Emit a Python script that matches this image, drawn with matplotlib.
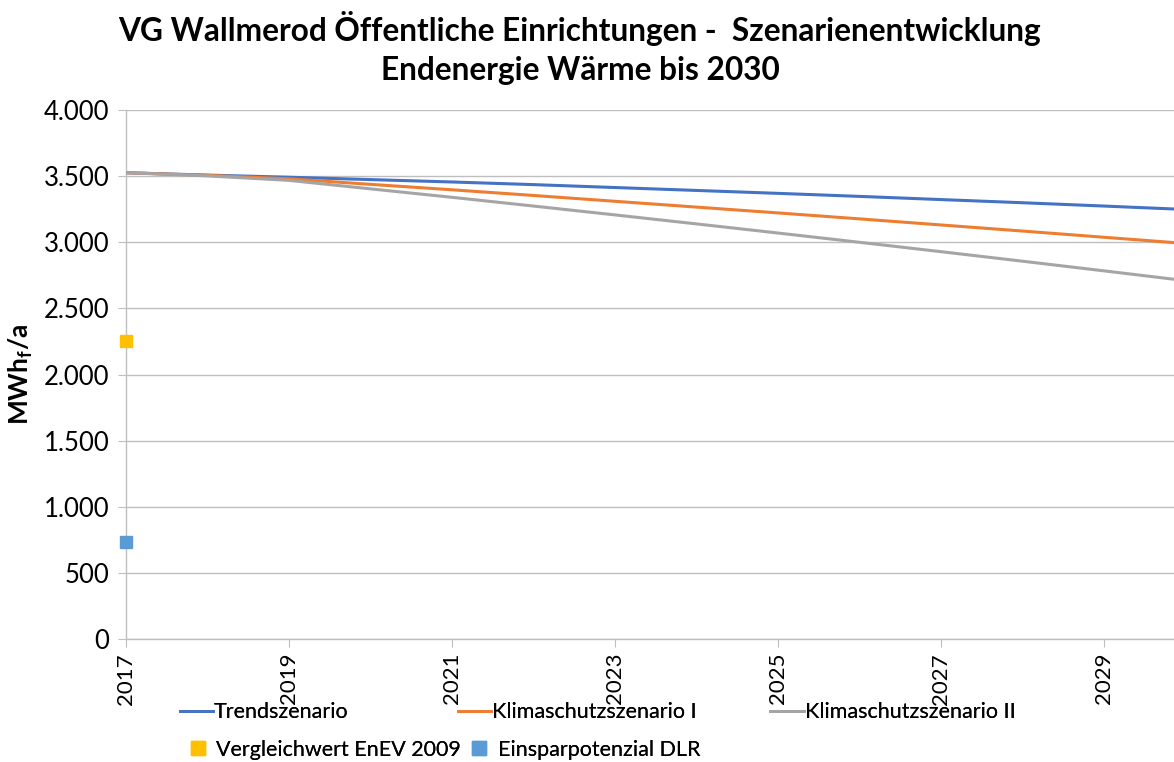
import matplotlib
matplotlib.use('Agg')
import matplotlib.pyplot as plt
from matplotlib.ticker import FuncFormatter
from matplotlib.lines import Line2D

plt.rcParams['font.family'] = ['Lato', 'DejaVu Sans']
plt.rcParams['mathtext.fontset'] = 'custom'
plt.rcParams['mathtext.rm'] = 'Lato'
plt.rcParams['mathtext.bf'] = 'Lato:bold'

# data (MWh_f/a)
years = [2017, 2018, 2019, 2020, 2021, 2022, 2023, 2024, 2025, 2026, 2027, 2028, 2029, 2030]
trend = [3526, 3508, 3492, 3474, 3456, 3436, 3414, 3392, 3370, 3347, 3323, 3299, 3274, 3248]
klima1 = [3526, 3506, 3480, 3438, 3397, 3354, 3310, 3266, 3222, 3177, 3131, 3085, 3038, 2991]
klima2 = [3526, 3502, 3468, 3404, 3340, 3274, 3207, 3139, 3070, 3000, 2929, 2857, 2784, 2710]
ref_year = 2017
enev_value = 2250
dlr_value = 730

series_labels = ['Trendszenario', 'Klimaschutzszenario I', 'Klimaschutzszenario II']
point_labels = ['Vergleichwert EnEV 2009', 'Einsparpotenzial DLR']
line_colors = ['#4472C4', '#ED7D31', '#A5A5A5']
point_colors = ['#FFC000', '#5B9BD5']

fig = plt.figure(figsize=(11.74, 7.62), dpi=100)
ax = fig.add_axes([0.1073, 0.1614, 0.8927, 0.6942])

for vals, col in zip([trend, klima1, klima2], line_colors):
    ax.plot(years, vals, color=col, lw=2.2, solid_capstyle='butt', zorder=3)

ax.plot([ref_year], [enev_value], 's', color=point_colors[0], ms=9, zorder=4, clip_on=False)
ax.plot([ref_year], [dlr_value], 's', color=point_colors[1], ms=9, zorder=4, clip_on=False)

ax.set_xlim(2017, 2029.86)
ax.set_ylim(0, 4000)
ax.set_xticks(range(2017, 2030, 2))
ax.set_yticks(range(0, 4001, 500))
ax.yaxis.set_major_formatter(FuncFormatter(lambda v, p: f'{int(v):,}'.replace(',', '.')))
ax.grid(axis='y', color='#BFBFBF', lw=1)
ax.set_axisbelow(True)

for s in ['top', 'right']:
    ax.spines[s].set_visible(False)
for s in ['left', 'bottom']:
    ax.spines[s].set_color('#BFBFBF')
    ax.spines[s].set_linewidth(1)

ax.tick_params(axis='x', direction='out', length=6, color='#BFBFBF', labelsize=16,
               labelrotation=90, pad=4)
ax.tick_params(axis='y', direction='out', length=6, color='#BFBFBF', labelsize=18.5, pad=6)

ax.set_ylabel(r'MWh$_{\mathbf{f}}$/a', fontsize=19, fontweight='bold', labelpad=6)

fig.suptitle('VG Wallmerod Öffentliche Einrichtungen -  Szenarienentwicklung\n'
             'Endenergie Wärme bis 2030', fontsize=22.8, fontweight='bold',
             y=0.985, x=0.494, linespacing=1.38)

# legend, Excel-style: fixed positions for each entry
line_pos = [(0.153, 0.0655), (0.390, 0.0655), (0.656, 0.0655)]
for lab, col, pos in zip(series_labels, line_colors, line_pos):
    h = Line2D([], [], color=col, lw=2)
    lg = fig.legend([h], [lab], loc='center left', bbox_to_anchor=pos, frameon=False,
                    fontsize=15.5, handlelength=1.55, handletextpad=0.05,
                    borderpad=0, borderaxespad=0)
    fig.add_artist(lg)

pt_pos = [(0.160, 0.016), (0.400, 0.016)]
for lab, col, pos in zip(point_labels, point_colors, pt_pos):
    h = Line2D([], [], color=col, marker='s', ls='none', ms=10)
    lg = fig.legend([h], [lab], loc='center left', bbox_to_anchor=pos, frameon=False,
                    fontsize=15.5, handlelength=0.9, handletextpad=0.4,
                    borderpad=0, borderaxespad=0)
    fig.add_artist(lg)

fig.savefig('out.png', dpi=100)
